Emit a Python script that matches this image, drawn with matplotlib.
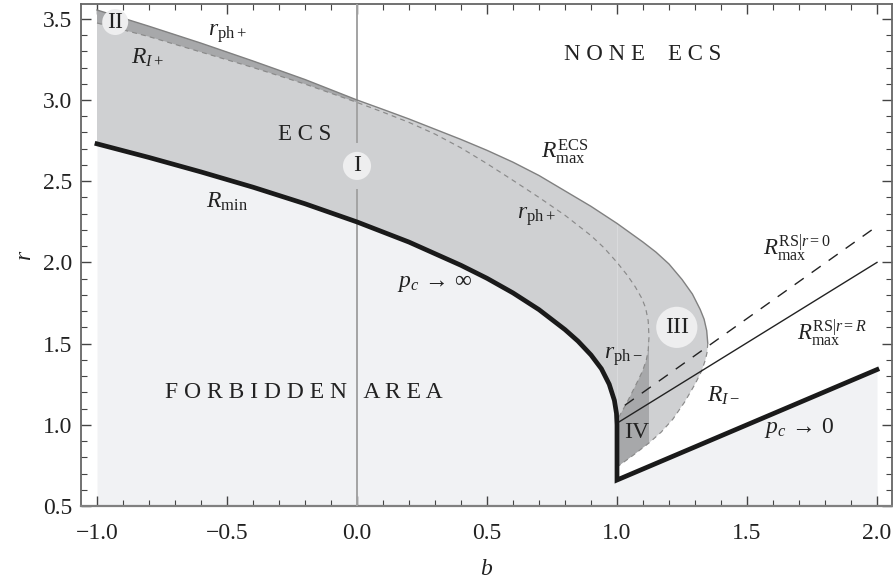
import matplotlib
matplotlib.use("Agg")
import matplotlib.pyplot as plt
from matplotlib.ticker import FixedLocator

plt.rcParams['font.family'] = ['Liberation Serif', 'DejaVu Serif']
plt.rcParams['mathtext.fontset'] = 'custom'
plt.rcParams['mathtext.rm'] = 'Liberation Serif'
plt.rcParams['mathtext.it'] = 'Liberation Serif:italic'
plt.rcParams['mathtext.bf'] = 'Liberation Serif:bold'
plt.rcParams['mathtext.fallback'] = 'stix'

# curves
outer_b = [-1.0, -0.8, -0.6, -0.4, -0.2, 0.0, 0.1, 0.2, 0.3, 0.4, 0.5, 0.6, 0.7, 0.8, 0.9, 1.0, 1.1, 1.15, 1.2, 1.25,
           1.29, 1.32, 1.335, 1.345, 1.349]
outer_r = [3.554, 3.454, 3.35, 3.24, 3.126, 3.0, 2.942, 2.883, 2.82, 2.757, 2.69, 2.617, 2.535, 2.44, 2.345, 2.24, 2.125, 2.063, 1.99, 1.895,
           1.805, 1.71, 1.65, 1.58, 1.504]

lower_b = [1.349, 1.347, 1.34, 1.325, 1.30, 1.26, 1.215, 1.17, 1.123, 1.06, 1.0]
lower_r = [1.504, 1.45, 1.40, 1.33, 1.25, 1.14, 1.035, 0.955, 0.888, 0.81, 0.74]

ph_plus_b = [-1.0, -0.8, -0.6, -0.4, -0.2, 0.0, 0.1, 0.2, 0.3, 0.4, 0.5, 0.6, 0.7, 0.8, 0.9, 0.95, 1.0, 1.04, 1.07, 1.095,
             1.11, 1.12, 1.123]
ph_plus_r = [3.474, 3.39, 3.295, 3.2, 3.098, 2.985, 2.925, 2.862, 2.79, 2.705, 2.608, 2.505, 2.40, 2.29, 2.165, 2.09, 2.0, 1.92, 1.85, 1.78,
             1.72, 1.64, 1.54]

ph_minus_b = [1.123, 1.12, 1.113, 1.098, 1.076, 1.055, 1.036, 1.02, 1.008, 1.0]
ph_minus_r = [1.54, 1.46, 1.40, 1.33, 1.257, 1.19, 1.13, 1.085, 1.05, 1.02]

rmin_b = [-1.0, -0.8, -0.6, -0.4, -0.2, 0.0, 0.2, 0.4, 0.5, 0.6, 0.7, 0.8, 0.85, 0.9, 0.94, 0.97, 0.99, 0.998, 1.0, 1.0]
rmin_r = [2.73, 2.646, 2.557, 2.463, 2.361, 2.249, 2.125, 1.982, 1.902, 1.812, 1.709, 1.586, 1.515, 1.43, 1.345, 1.25, 1.15, 1.07, 1.0, 0.66]

pc0_b = [1.0, 2.0]
pc0_r = [0.66, 1.34]

rs_zero_b = [1.03, 1.98]
rs_zero_r = [1.12, 2.2]
rs_r_b = [1.0, 2.0]
rs_r_r = [1.01, 2.0]

circle_b = [0.0, -0.93, 1.23]
circle_r = [2.594, 3.48, 1.60]
circle_labels = ['I', 'II', 'III']
circle_sizes = [410, 350, 880]

fig = plt.figure(figsize=(8.93, 5.88), dpi=100)
ax = fig.add_axes([80.5 / 893, 82 / 588, (892 - 80.5) / 893, 502 / 588])
ax.set_xlim(-1.0635, 2.0577)
ax.set_ylim(0.5, 3.591)

light = '#f1f2f4'
mid = '#cfd0d2'
dark = '#a7a8aa'

# forbidden area
ax.fill_between(rmin_b[:-1], 0.5, rmin_r[:-1], color=light, lw=0, zorder=1)
ax.fill_between(pc0_b, 0.5, pc0_r, color=light, lw=0, zorder=1)

# ECS area
ax.fill(outer_b + lower_b[1:] + rmin_b[-2::-1], outer_r + lower_r[1:] + rmin_r[-2::-1], color=mid, lw=0, zorder=2)

# region II
ax.fill(outer_b[:6] + ph_plus_b[5::-1], outer_r[:6] + ph_plus_r[5::-1], color=dark, lw=0, zorder=3)

# region IV
ax.fill(ph_minus_b + lower_b[:7:-1], ph_minus_r + lower_r[:7:-1], color=dark, lw=0, zorder=3)

ax.plot([1.0, 1.0], [1.03, 2.24], color='#dcdddf', lw=0.6, zorder=3)
ax.plot([0.0, 0.0], [0.5, 2.446], color='#a3a3a3', lw=1.4, zorder=4)
ax.plot([0.0, 0.0], [2.741, 3.591], color='#a3a3a3', lw=1.4, zorder=4)

ax.plot(outer_b, outer_r, color='#808080', lw=1.0, zorder=5)
ax.plot(ph_plus_b + ph_minus_b, ph_plus_r + ph_minus_r, color='#8a8a8a', lw=0.85, dashes=(4.2, 3.5), zorder=5)
ax.plot(lower_b, lower_r, color='#8a8a8a', lw=0.85, dashes=(4.2, 3.5), zorder=5)

ax.plot(rs_zero_b, rs_zero_r, color='#222222', lw=1.0, dashes=(8, 7), zorder=6)
ax.plot(rs_r_b, rs_r_r, color='#222222', lw=1.0, zorder=6)
ax.plot(rmin_b + pc0_b[1:], rmin_r + pc0_r[1:], color='#1a1a1a', lw=3.4, solid_joinstyle='miter', zorder=7)

ax.scatter(circle_b, circle_r, s=circle_sizes, color='#eeeeef', lw=0, zorder=8)
for b, r, t in zip(circle_b, circle_r, circle_labels):
    ax.text(b, r, t, fontsize=17, color='#222222', ha='center', va='center', zorder=9)

# text on the chart
txt = dict(color='#222222', ha='center', va='center', zorder=9)
ax.text(1.10, 3.277, 'N O N E    E C S', fontsize=16.5, **txt)
ax.text(-0.2, 2.79, 'E C S', fontsize=16.5, **txt)
ax.text(-0.204, 1.196, 'F O R B I D D E N   A R E A', fontsize=17, **txt)
ax.text(-0.50, 3.41, r'$r_{\mathrm{ph+}}$', fontsize=17, **txt)
ax.text(-0.804, 3.26, r'$R_{I+}$', fontsize=17, **txt)
ax.text(-0.50, 2.37, r'$R_{\mathrm{min}}$', fontsize=17, **txt)
ax.text(0.69, 2.28, r'$r_{\mathrm{ph+}}$', fontsize=17, **txt)
ax.text(0.80, 2.68, r'$R_{\mathrm{max}}^{\mathrm{ECS}}$', fontsize=17, **txt)
ax.text(0.30, 1.87, r'$p_c\,\rightarrow\,\infty$', fontsize=17, **txt)
ax.text(1.025, 1.42, r'$r_{\mathrm{ph-}}$', fontsize=17, **txt)
ax.text(1.41, 1.18, r'$R_{I-}$', fontsize=17, **txt)
ax.text(1.70, 0.98, r'$p_c\,\rightarrow\,0$', fontsize=17, **txt)
ax.text(1.69, 2.09, r'$R_{\mathrm{max}}^{\mathrm{RS}|r=0}$', fontsize=16.5, **txt)
ax.text(1.827, 1.57, r'$R_{\mathrm{max}}^{\mathrm{RS}|r=R}$', fontsize=16.5, **txt)
ax.text(1.076, 0.95, 'IV', fontsize=17, **txt)

ax.set_xlabel('b', fontsize=17, style='italic', color='#222222', labelpad=11)
ax.set_ylabel('r', fontsize=17, style='italic', color='#222222', labelpad=13, rotation=90, va='center')

# ticks and frame
ax.xaxis.set_major_locator(FixedLocator([-1.0, -0.5, 0.0, 0.5, 1.0, 1.5, 2.0]))
ax.xaxis.set_minor_locator(FixedLocator([x / 10 for x in range(-10, 21)]))
ax.yaxis.set_major_locator(FixedLocator([0.5, 1.0, 1.5, 2.0, 2.5, 3.0, 3.5]))
ax.yaxis.set_minor_locator(FixedLocator([y / 10 for y in range(5, 36)]))
ax.tick_params(which='major', direction='in', length=7, width=1.0, color='#444444', labelsize=17,
               labelcolor='#222222', top=True, right=True)
ax.tick_params(which='minor', direction='in', length=4.3, width=0.8, color='#444444', top=True, right=True)
ax.tick_params(axis='x', which='major', pad=12)
ax.tick_params(axis='y', which='major', pad=6)
for side in ax.spines.values():
    side.set_color('#666666')
    side.set_linewidth(1.3)
ax.spines['bottom'].set_color('#808080')
ax.spines['bottom'].set_linewidth(1.6)

fig.savefig('out.png', dpi=100)
